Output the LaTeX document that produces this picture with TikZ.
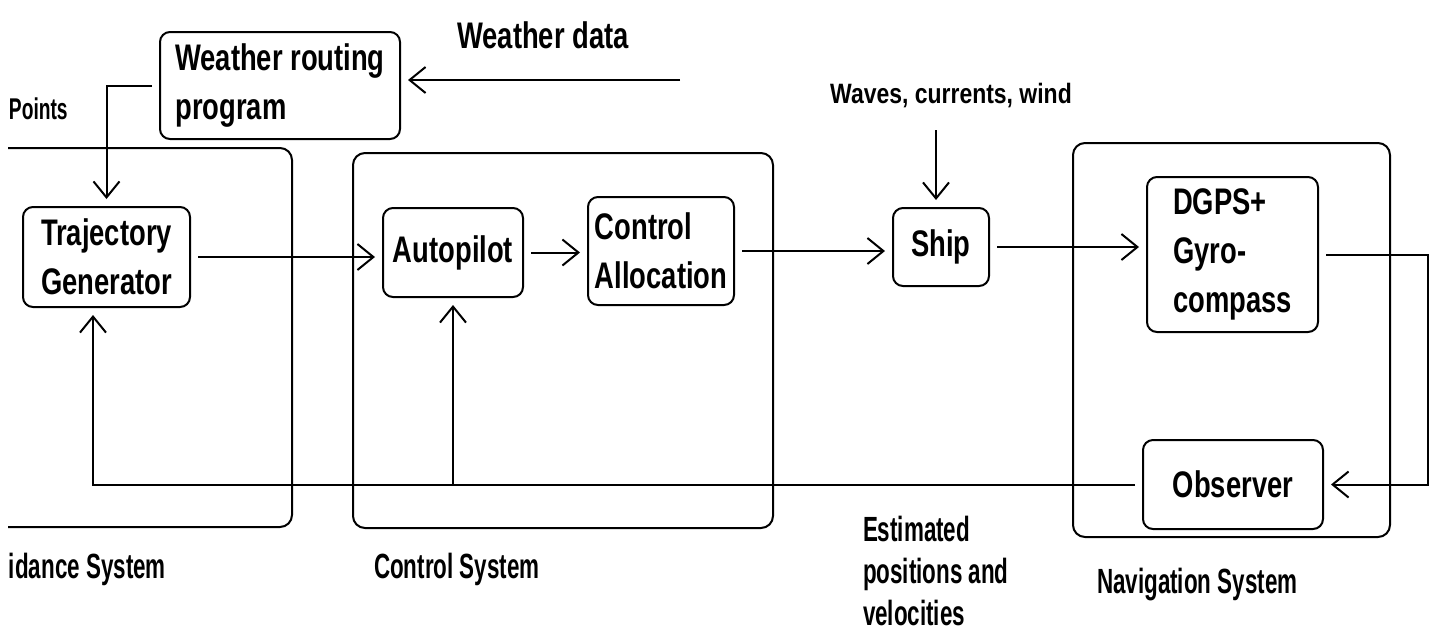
\documentclass[tikz,border=0pt]{standalone}
\usepackage{fontspec}
\setmainfont{Liberation Sans}
\newfontfamily\boxfont{Liberation Sans}[FakeStretch=0.74]
\newfontfamily\labfont{Liberation Sans}[FakeStretch=0.64]
\newfontfamily\wavefont{Liberation Sans}[FakeStretch=0.82]
\usetikzlibrary{arrows.meta}

\begin{document}
\begin{tikzpicture}[x=0.5pt,y=-0.5pt,
  line width=1pt,
  arr/.style={-{Straight Barb[length=8pt,width=13pt,line width=1pt]}},
  blk/.style={draw, rounded corners=5pt, outer sep=4pt, inner sep=0pt,
    align=left, font=\boxfont\bfseries\fontsize{18.5}{24.5}\selectfont},
  frame/.style={draw, rounded corners=6pt, inner sep=0pt},
  lab/.style={inner sep=0pt, anchor=base west, align=left,
    font=\labfont\bfseries\fontsize{17.5}{21.5}\selectfont},
  toplab/.style={inner sep=0pt, anchor=base,
    font=\boxfont\bfseries\fontsize{18.5}{24}\selectfont}]
\useasboundingbox (0,0) rectangle (1435,634);

% system frames
\draw[rounded corners=6pt] (8,148) -- (292,148) -- (292,527) -- (8,527);
\node[frame, minimum width=210pt, minimum height=187.5pt] (ctrlsys) at (563,340.5) {};
\node[frame, minimum width=158.5pt, minimum height=197pt] (navsys) at (1231.5,340) {};

% blocks
\node[blk, minimum width=120pt, minimum height=53.5pt] (wrp) at (280,85.5)
  {Weather routing\\program};
\node[blk, minimum width=83.5pt, minimum height=50pt] (traj) at (106.5,257)
  {Trajectory\\Generator};
\node[blk, minimum width=70pt, minimum height=44.5pt] (auto) at (453,252.5)
  {Autopilot};
\node[blk, minimum width=73pt, minimum height=54pt] (ca) at (661,251)
  {Control\\Allocation};
\node[blk, minimum width=48pt, minimum height=39pt] (ship) at (941,247)
  {Ship};
\node[blk, minimum width=85.5pt, minimum height=77.5pt] (dgps) at (1232.5,254.5)
  {DGPS+\\Gyro-\\compass};
\node[blk, minimum width=90pt, minimum height=44.5pt] (obs) at (1233,484.5)
  {Observer};

% labels
\node[toplab] (wdlab) at (543,48) {Weather data};
\node[inner sep=0pt, anchor=base, font=\wavefont\bfseries\fontsize{14}{16}\selectfont]
  (wvlab) at (951,103) {Waves, currents, wind};
\node[lab, font=\labfont\bfseries\fontsize{15}{18}\selectfont] (ptlab) at (8,119) {Points};
\node[lab] (gslab) at (8,578) {idance System};
\node[lab] (cslab) at (373,578) {Control System};
\node[lab] (nslab) at (1096,593) {Navigation System};
\node[lab, font=\labfont\bfseries\fontsize{17.5}{21}\selectfont] (evlab) at (862,625)
  {Estimated\\positions and\\velocities};

% loose ends
\coordinate (wdin) at (680,80);
\coordinate (wvin) at (936,130);
\coordinate (fbR) at (1428,0);
\coordinate (fbL) at (93,0);

% connectors
\draw[arr] (wdin) -- (wdin -| wrp.east);
\draw[arr] (wrp.west) -| (traj.north);
\draw[arr] (traj.east) -- (traj.east -| auto.west);
\draw[arr] (auto.east) -- (auto.east -| ca.west);
\draw[arr] (ca.east) -- (ca.east -| ship.west);
\draw[arr] (wvin) -- (wvin |- ship.north);
\draw[arr] (ship.east) -- (ship.east -| dgps.west);
\draw[arr] (dgps.east) -| (fbR |- obs.east) -- (obs.east);
\draw[arr] (obs.west) -| (fbL |- traj.south);
\draw[arr] (auto.south |- obs.west) -- (auto.south);
\end{tikzpicture}
\end{document}
